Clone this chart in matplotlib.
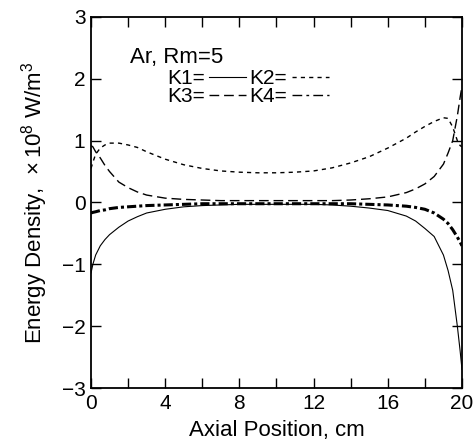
import matplotlib
matplotlib.use('Agg')
import matplotlib.pyplot as plt
from matplotlib.lines import Line2D

plt.rcParams['font.family'] = ['Liberation Sans', 'DejaVu Sans']
plt.rcParams['mathtext.fontset'] = 'custom'
plt.rcParams['mathtext.rm'] = 'Liberation Sans'

# axial position (cm) and energy density (1e8 W/m^3) for each term
x = [0, 0.1, 0.25, 0.5, 0.75, 1, 1.5, 2, 2.5, 3, 4, 5, 6, 7, 8, 9, 10,
     11, 12, 13, 14, 15, 16, 17, 17.5, 18, 18.5, 19, 19.25, 19.5, 19.75, 19.9, 20]

k1 = [-1.14, -1.0, -0.85, -0.7, -0.6, -0.52, -0.4, -0.3, -0.23, -0.17, -0.11,
      -0.07, -0.05, -0.04, -0.03, -0.03, -0.03, -0.03, -0.03, -0.04, -0.06,
      -0.09, -0.13, -0.22, -0.3, -0.42, -0.55, -0.85, -1.1, -1.42, -2.0, -2.4, -2.7]

k2 = [0.55, 0.65, 0.78, 0.88, 0.93, 0.96, 0.96, 0.93, 0.89, 0.82, 0.7,
      0.61, 0.55, 0.51, 0.49, 0.48, 0.48, 0.49, 0.51, 0.56, 0.64,
      0.74, 0.88, 1.04, 1.14, 1.23, 1.31, 1.37, 1.36, 1.22, 1.0, 0.92, 0.9]

k3 = [0.92, 0.9, 0.82, 0.72, 0.6, 0.5, 0.33, 0.24, 0.17, 0.12, 0.07,
      0.05, 0.04, 0.03, 0.03, 0.03, 0.03, 0.03, 0.03, 0.03, 0.04,
      0.06, 0.09, 0.16, 0.22, 0.3, 0.42, 0.62, 0.8, 1.0, 1.4, 1.7, 1.88]

k4 = [-0.17, -0.16, -0.15, -0.13, -0.12, -0.1, -0.08, -0.07, -0.06, -0.05, -0.04,
      -0.03, -0.02, -0.02, -0.02, -0.02, -0.02, -0.02, -0.02, -0.02, -0.02,
      -0.03, -0.04, -0.06, -0.08, -0.11, -0.17, -0.27, -0.34, -0.44, -0.56, -0.64, -0.7]

xticks = [0, 2, 4, 6, 8, 10, 12, 14, 16, 18, 20]
xticklabels = ['0', '', '4', '', '8', '', '12', '', '16', '', '20']
yticks = [-3, -2, -1, 0, 1, 2, 3]

fig = plt.figure(figsize=(4.75, 4.46), dpi=100)
ax = fig.add_axes([0.1916, 0.130, 0.781, 0.832])

ax.plot(x, k1, color='black', lw=0.8, ls='-')
ax.plot(x, k2, color='black', lw=1.0, ls=(0, (3, 3)))
ax.plot(x, k3, color='black', lw=1.0, ls=(0, (7, 3.5)))
ax.plot(x, k4, color='black', lw=2.2, ls=(0, (3, 1, 1, 1)))

ax.set_xlim(0, 20)
ax.set_ylim(-3, 3)
ax.set_xticks(xticks)
ax.set_xticklabels(xticklabels)
ax.set_yticks(yticks)
ax.tick_params(direction='in', top=True, right=True, length=7, width=1.0,
               labelsize=15, pad=4)
for s in ax.spines.values():
    s.set_linewidth(1.3)

ax.set_xlabel('Axial Position, cm', fontsize=16, labelpad=5)
ax.set_ylabel(r'Energy Density,  $\times\,10^8$ W/m$^3$', fontsize=16, labelpad=8)

ax.text(0.105, 0.89, 'Ar, Rm=5', transform=ax.transAxes, fontsize=16,
        ha='left', va='center')
handles = [
    Line2D([], [], color='black', lw=0.8, ls='-'),
    Line2D([], [], color='black', lw=1.0, ls=(0, (7, 3.5))),
    Line2D([], [], color='black', lw=1.0, ls=(0, (3, 3))),
    Line2D([], [], color='black', lw=1.0, ls=(0, (7, 3, 2, 3))),
]
labels = ['K1=', 'K3=', 'K2=', 'K4=']
ax.legend(handles, labels, loc='upper left', bbox_to_anchor=(0.205, 0.86),
          ncol=2, markerfirst=False, frameon=False, fontsize=15,
          handlelength=1.8, handletextpad=0.2, columnspacing=0.15,
          labelspacing=-0.05, borderpad=0, borderaxespad=0)

fig.savefig('out.png', dpi=100)
